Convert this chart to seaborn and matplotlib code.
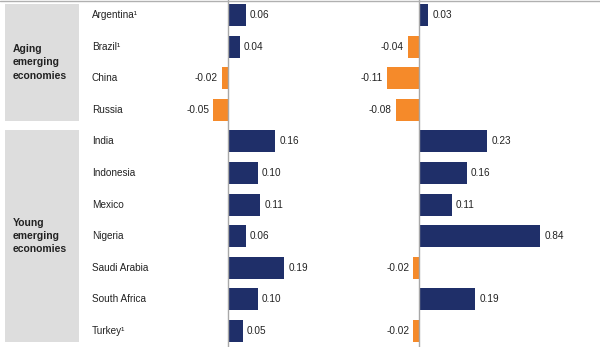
import matplotlib
matplotlib.use("Agg")
import matplotlib.pyplot as plt
import seaborn as sns
import pandas as pd
from matplotlib.patches import Rectangle
from matplotlib.lines import Line2D
from matplotlib.transforms import blended_transform_factory

countries = ["Argentina¹", "Brazil¹", "China", "Russia", "India", "Indonesia",
             "Mexico", "Nigeria", "Saudi Arabia", "South Africa", "Turkey¹"]
values_left = [0.06, 0.04, -0.02, -0.05, 0.16, 0.10, 0.11, 0.06, 0.19, 0.10, 0.05]
values_right = [0.03, -0.04, -0.11, -0.08, 0.23, 0.16, 0.11, 0.84, -0.02, 0.19, -0.02]
group_names = ["Aging\nemerging\neconomies", "Young\nemerging\neconomies"]
group_sizes = [4, 7]

NAVY = "#1f2f69"
ORANGE = "#f58a2a"
TEXT = "#222222"
FS = 7.2

sns.set_theme(style="white")
plt.rcParams["font.family"] = ["Liberation Sans", "DejaVu Sans"]

W, H = 600, 349
fig = plt.figure(figsize=(6, 3.49), dpi=100)
fig.patch.set_facecolor("white")

def rect(x0, x1, y0, y1):
    return [x0 / W, 1 - y1 / H, (x1 - x0) / W, (y1 - y0) / H]

SCALE = 295.0  # pixels per unit
TOP, BOT = -0.8, 346.8

def make_ax(x0, x1, zero, vals):
    ax = fig.add_axes(rect(x0, x1, TOP, BOT))
    df = pd.DataFrame({"country": countries, "value": vals,
                       "sign": ["pos" if v >= 0 else "neg" for v in vals]})
    sns.barplot(data=df, x="value", y="country", hue="sign", order=countries,
                palette={"pos": NAVY, "neg": ORANGE}, dodge=False, width=0.69,
                legend=False, ax=ax, edgecolor="none", saturation=1)
    xmin = (x0 - zero) / SCALE
    xmax = (x1 - zero) / SCALE
    ax.set_xlim(xmin, xmax)
    ax.set_ylim(len(countries) - 0.5, -0.5)
    ax.axis("off")
    ax.axvline(0, color="#a8a8a8", lw=1.0, zorder=4)
    for i, v in enumerate(vals):
        xe = min(max(v, xmin), xmax)
        if v >= 0:
            ax.annotate(f"{v:.2f}", (xe, i), xytext=(3, 0), textcoords="offset points",
                        ha="left", va="center", fontsize=FS, color=TEXT,
                        annotation_clip=False)
        else:
            ax.annotate(f"{v:.2f}", (xe, i), xytext=(-3, 0), textcoords="offset points",
                        ha="right", va="center", fontsize=FS, color=TEXT,
                        annotation_clip=False)
    return ax

axL = make_ax(170, 330, 228, values_left)
axR = make_ax(340, 540, 419.3, values_right)

# country labels and group boxes
tr = blended_transform_factory(fig.transFigure, axL.transData)
for i, c in enumerate(countries):
    axL.text(92 / W, i, c, transform=tr, ha="left", va="center",
             fontsize=FS, color=TEXT, clip_on=False)

start = 0
for name, n in zip(group_names, group_sizes):
    y0 = start - 0.5 + 0.14
    y1 = start + n - 0.5 - 0.14
    axL.add_patch(Rectangle((5 / W, y0), 74 / W, y1 - y0, transform=tr,
                            facecolor="#dddddd", edgecolor="none", clip_on=False, zorder=0))
    axL.text(13 / W, (y0 + y1) / 2, name, transform=tr, ha="left", va="center",
             fontsize=7.5, fontweight="bold", color=TEXT, linespacing=1.4,
             clip_on=False)
    start += n

fig.add_artist(Line2D([0, 1], [1 - 0.5 / H, 1 - 0.5 / H], transform=fig.transFigure,
                      color="#b0b0b0", lw=1.0))

fig.savefig("out.png", dpi=100)
